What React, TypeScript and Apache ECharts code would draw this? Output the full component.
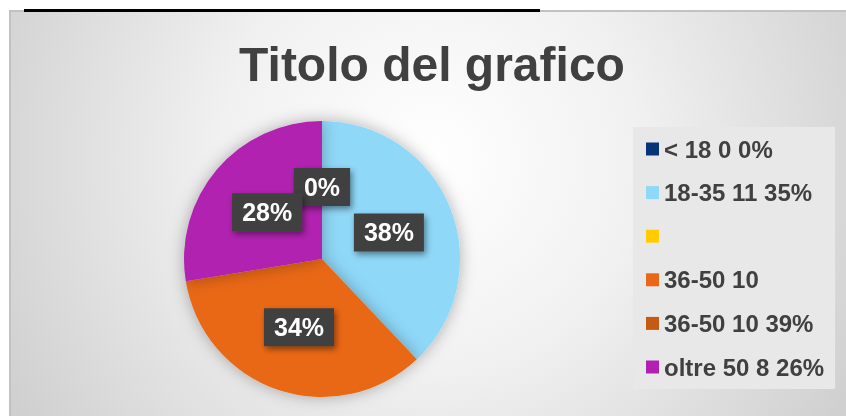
import React, { useEffect, useRef } from "react";
import * as echarts from "echarts";

const categories = ["< 18 0 0%", "18-35 11 35%", " ", "36-50 10", "36-50 10 39%", "oltre 50 8 26%"];
const values = [0, 11, 0, 10, 0, 8];
const showLabel = [true, true, false, true, false, true];
const colors = ["#073479", "#8fd8f8", "#ffcc00", "#e96816", "#c55a11", "#b120b0"];
const titleText = "Titolo del grafico";

export default function App() {
  const ref = useRef<HTMLDivElement>(null);
  useEffect(() => {
    if (!ref.current) return;
    const chart = echarts.init(ref.current, null, { renderer: "svg" });
    const bg = new echarts.graphic.RadialGradient(
      430,
      160,
      520,
      [
        { offset: 0, color: "#ffffff" },
        { offset: 0.4, color: "#f1f1f1" },
        { offset: 1, color: "#cbcbcb" },
      ],
      true
    );
    chart.setOption({
      animation: false,
      graphic: [
        {
          type: "rect",
          shape: { x: 10, y: 11, width: 845, height: 415 },
          style: { fill: bg, stroke: "#c2c2c2", lineWidth: 2 },
        },
        {
          type: "rect",
          shape: { x: 24, y: 9, width: 516, height: 3 },
          style: { fill: "#000000" },
        },
        {
          type: "text",
          x: 432,
          y: 64,
          style: {
            text: titleText,
            textAlign: "center",
            textVerticalAlign: "middle",
            font: "bold 48px 'Liberation Sans', Arial, sans-serif",
            fill: "#404040",
          },
        },
      ],
      legend: {
        orient: "vertical",
        left: 633,
        top: 127,
        padding: [10, 11, 10, 13],
        backgroundColor: "#e8e8e8",
        itemWidth: 13,
        itemHeight: 13,
        itemGap: 19.6,
        icon: "rect",
        data: categories,
        selectedMode: false,
        textStyle: {
          fontFamily: "'Liberation Sans', Arial, sans-serif",
          fontWeight: "bold",
          fontSize: 24,
          lineHeight: 24,
          color: "#404040",
        },
      },
      series: [
        {
          type: "pie",
          center: [322, 259],
          radius: 138,
          startAngle: 90,
          clockwise: true,
          minAngle: 0.05,
          minShowLabelAngle: 0,
          percentPrecision: 0,
          avoidLabelOverlap: false,
          labelLayout: { hideOverlap: false },
          itemStyle: {
            shadowBlur: 16,
            shadowColor: "rgba(0,0,0,0.3)",
          },
          label: {
            show: true,
            position: "inside",
            formatter: "{d}%",
            color: "#ffffff",
            fontFamily: "'Liberation Sans', Arial, sans-serif",
            fontWeight: "bold",
            fontSize: 25,
            backgroundColor: "#404040",
            padding: [7, 10, 6, 10],
            shadowBlur: 6,
            shadowOffsetX: 2,
            shadowOffsetY: 3,
            shadowColor: "rgba(0,0,0,0.45)",
          },
          labelLine: { show: false },
          data: categories.map((name, i) => ({
            name,
            value: values[i],
            itemStyle: { color: colors[i] },
            label: { show: showLabel[i] },
          })),
        },
      ],
    });
    return () => chart.dispose();
  }, []);
  return (
    <div
      ref={ref}
      style={{ position: "fixed", left: 0, top: 0, width: 846, height: 416 }}
    />
  );
}
